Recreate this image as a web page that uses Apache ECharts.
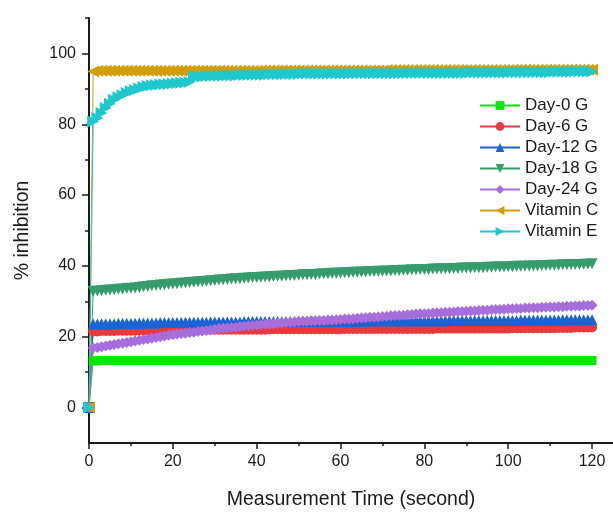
<!DOCTYPE html>
<html>
<head>
<meta charset="utf-8">
<script src="https://cdn.jsdelivr.net/npm/echarts@6/dist/echarts.min.js"></script>
<style>html,body{margin:0;padding:0;background:#fff;}#c{width:613px;height:516px;}</style>
</head>
<body>
<div id="c"></div>
<script>
var times = [0,
1,2,3,4,5,6,7,8,9,10,
11,12,13,14,15,16,17,18,19,20,
21,22,23,24,25,26,27,28,29,30,
31,32,33,34,35,36,37,38,39,40,
41,42,43,44,45,46,47,48,49,50,
51,52,53,54,55,56,57,58,59,60,
61,62,63,64,65,66,67,68,69,70,
71,72,73,74,75,76,77,78,79,80,
81,82,83,84,85,86,87,88,89,90,
91,92,93,94,95,96,97,98,99,100,
101,102,103,104,105,106,107,108,109,110,
111,112,113,114,115,116,117,118,119,120];

var day0G = [0,
13.2,13.2,13.3,13.3,13.3,13.3,13.3,13.3,13.3,13.3,
13.3,13.3,13.3,13.3,13.3,13.3,13.3,13.3,13.3,13.3,
13.3,13.3,13.3,13.3,13.3,13.3,13.3,13.3,13.3,13.3,
13.3,13.3,13.3,13.3,13.3,13.3,13.3,13.3,13.3,13.3,
13.3,13.3,13.3,13.3,13.3,13.3,13.3,13.3,13.3,13.3,
13.3,13.3,13.3,13.3,13.3,13.3,13.3,13.3,13.3,13.3,
13.3,13.3,13.3,13.3,13.3,13.3,13.3,13.3,13.3,13.3,
13.3,13.3,13.3,13.3,13.3,13.3,13.3,13.3,13.3,13.3,
13.3,13.3,13.3,13.3,13.3,13.3,13.3,13.3,13.3,13.3,
13.3,13.3,13.3,13.3,13.3,13.3,13.3,13.3,13.3,13.3,
13.3,13.3,13.3,13.3,13.3,13.3,13.3,13.3,13.3,13.3,
13.3,13.3,13.3,13.3,13.3,13.3,13.3,13.3,13.3,13.3];

var day6G = [0,
21.5,21.5,21.6,21.6,21.6,21.6,21.7,21.7,21.7,21.7,
21.7,21.8,21.8,21.8,21.8,21.8,21.8,21.9,21.9,21.9,
21.9,21.9,21.9,21.9,22.0,22.0,22.0,22.0,22.0,22.0,
22.0,22.0,22.0,22.0,22.0,22.0,22.0,22.0,22.0,22.0,
22.0,22.0,22.1,22.1,22.1,22.1,22.1,22.1,22.1,22.1,
22.1,22.1,22.1,22.1,22.1,22.1,22.1,22.1,22.1,22.1,
22.2,22.2,22.2,22.2,22.2,22.2,22.2,22.2,22.2,22.2,
22.2,22.2,22.2,22.2,22.2,22.2,22.2,22.2,22.2,22.2,
22.2,22.2,22.3,22.3,22.3,22.3,22.3,22.3,22.3,22.3,
22.3,22.3,22.3,22.3,22.3,22.3,22.3,22.3,22.3,22.3,
22.4,22.4,22.4,22.4,22.4,22.4,22.4,22.4,22.4,22.4,
22.4,22.5,22.5,22.5,22.5,22.6,22.6,22.6,22.6,22.6];

var day12G = [0,
23.6,23.6,23.7,23.7,23.7,23.7,23.8,23.8,23.8,23.8,
23.8,23.9,23.9,23.9,23.9,23.9,24.0,24.0,24.0,24.0,
24.0,24.0,24.1,24.1,24.1,24.1,24.1,24.1,24.2,24.2,
24.2,24.2,24.2,24.2,24.2,24.2,24.3,24.3,24.3,24.3,
24.3,24.3,24.3,24.3,24.3,24.3,24.3,24.3,24.4,24.4,
24.4,24.4,24.4,24.4,24.4,24.4,24.4,24.4,24.4,24.4,
24.4,24.4,24.4,24.4,24.4,24.4,24.5,24.5,24.5,24.5,
24.5,24.5,24.5,24.5,24.5,24.5,24.5,24.5,24.5,24.5,
24.5,24.5,24.5,24.5,24.5,24.6,24.6,24.6,24.6,24.6,
24.6,24.6,24.6,24.6,24.6,24.6,24.6,24.6,24.6,24.6,
24.6,24.6,24.7,24.7,24.7,24.7,24.7,24.7,24.7,24.7,
24.7,24.7,24.8,24.8,24.8,24.8,24.8,24.8,24.8,24.8];

var day18G = [0,
32.8,32.9,33.0,33.1,33.2,33.3,33.4,33.5,33.6,33.7,
33.8,33.9,34.1,34.2,34.4,34.5,34.6,34.7,34.8,34.9,
35.0,35.1,35.2,35.3,35.4,35.5,35.6,35.7,35.8,35.9,
36.0,36.1,36.2,36.3,36.4,36.4,36.5,36.6,36.7,36.7,
36.8,36.9,36.9,37.0,37.1,37.1,37.2,37.3,37.3,37.4,
37.5,37.5,37.6,37.6,37.7,37.8,37.8,37.9,37.9,38.0,
38.1,38.1,38.2,38.2,38.3,38.3,38.4,38.4,38.5,38.5,
38.6,38.6,38.7,38.7,38.8,38.8,38.9,38.9,39.0,39.0,
39.0,39.1,39.1,39.2,39.2,39.2,39.3,39.3,39.4,39.4,
39.4,39.5,39.5,39.5,39.6,39.6,39.7,39.7,39.7,39.8,
39.8,39.9,39.9,39.9,40.0,40.0,40.0,40.1,40.1,40.2,
40.2,40.2,40.3,40.3,40.4,40.4,40.4,40.5,40.5,40.6];

var day24G = [0,
16.8,17.0,17.2,17.4,17.6,17.8,18.0,18.2,18.4,18.6,
18.8,19.0,19.2,19.4,19.6,19.8,20.0,20.2,20.4,20.6,
20.8,20.9,21.0,21.2,21.3,21.5,21.6,21.8,21.9,22.1,
22.3,22.4,22.5,22.6,22.7,22.9,23.0,23.1,23.2,23.3,
23.4,23.5,23.6,23.7,23.8,23.9,24.0,24.1,24.2,24.3,
24.4,24.4,24.5,24.5,24.6,24.6,24.7,24.7,24.8,24.9,
25.0,25.0,25.1,25.2,25.3,25.4,25.5,25.5,25.6,25.7,
25.8,25.9,26.0,26.0,26.1,26.2,26.3,26.4,26.5,26.5,
26.6,26.7,26.8,26.8,26.9,26.9,27.0,27.1,27.1,27.2,
27.3,27.3,27.4,27.5,27.5,27.6,27.7,27.7,27.8,27.9,
27.9,28.0,28.0,28.1,28.1,28.2,28.2,28.3,28.3,28.4,
28.4,28.5,28.5,28.6,28.6,28.7,28.7,28.8,28.8,28.9];

var vitaminC = [0,
94.9,95.1,95.1,95.1,95.1,95.1,95.1,95.1,95.1,95.1,
95.1,95.1,95.1,95.1,95.1,95.1,95.1,95.1,95.1,95.1,
95.1,95.1,95.1,95.1,95.1,95.1,95.1,95.1,95.1,95.1,
95.1,95.1,95.1,95.1,95.1,95.1,95.1,95.1,95.1,95.1,
95.2,95.2,95.2,95.2,95.2,95.2,95.2,95.2,95.2,95.2,
95.2,95.2,95.2,95.2,95.2,95.2,95.2,95.2,95.2,95.2,
95.2,95.2,95.2,95.2,95.2,95.2,95.2,95.2,95.2,95.2,
95.3,95.3,95.3,95.3,95.3,95.3,95.3,95.3,95.3,95.3,
95.3,95.3,95.3,95.3,95.3,95.3,95.3,95.3,95.3,95.3,
95.3,95.3,95.3,95.3,95.3,95.3,95.3,95.3,95.3,95.3,
95.4,95.4,95.4,95.4,95.4,95.4,95.4,95.4,95.4,95.4,
95.4,95.4,95.4,95.4,95.4,95.4,95.4,95.4,95.4,95.4];

var vitaminE = [0,
80.8,81.8,83.2,84.6,85.8,86.9,87.6,88.2,88.8,89.3,
89.7,90.1,90.5,90.8,91.0,91.1,91.2,91.3,91.4,91.5,
91.6,91.7,91.8,91.9,93.4,93.5,93.5,93.6,93.6,93.7,
93.7,93.7,93.8,93.8,93.8,93.9,93.9,93.9,94.0,94.0,
94.0,94.0,94.1,94.1,94.1,94.1,94.2,94.2,94.2,94.2,
94.3,94.3,94.3,94.3,94.3,94.3,94.3,94.3,94.3,94.3,
94.3,94.3,94.4,94.4,94.4,94.4,94.4,94.4,94.4,94.4,
94.4,94.4,94.4,94.4,94.4,94.5,94.5,94.5,94.5,94.5,
94.5,94.5,94.5,94.5,94.5,94.5,94.5,94.5,94.5,94.5,
94.6,94.6,94.6,94.6,94.6,94.6,94.6,94.6,94.6,94.6,
94.7,94.7,94.7,94.7,94.7,94.7,94.7,94.7,94.7,94.7,
94.8,94.8,94.8,94.8,94.8,94.9,94.9,94.9,94.9,94.9];

var seriesNames = ['Day-0 G','Day-6 G','Day-12 G','Day-18 G','Day-24 G','Vitamin C','Vitamin E'];
var seriesValues = [day0G, day6G, day12G, day18G, day24G, vitaminC, vitaminE];
var xTickLabels = [0,20,40,60,80,100,120];
var xMinorTicks = [10,30,50,70,90,110];
var yTickLabels = [0,20,40,60,80,100];
var yMinorTicks = [10,30,50,70,90,110];

var colors = ['#0be60b','#e83a3d','#1c63d4','#379c6c','#a66edb','#d29e0c','#1ec8cc'];
var symbols = ['rect','circle','triangle','triangle','diamond','triangle','triangle'];
var rotations = [0,0,0,180,0,90,-90];
var sizes = [9,10,11,11,11,12,12];

var FONT = 'Liberation Sans, Arial, sans-serif';
var INK = '#1a1a1a';

var series = seriesNames.map(function(name, k){
  return {
    name: name,
    type: 'line',
    xAxisIndex: 0, yAxisIndex: 0,
    data: times.map(function(t,i){ return [t, seriesValues[k][i]]; }),
    symbol: symbols[k],
    symbolRotate: rotations[k],
    symbolSize: sizes[k],
    showAllSymbol: true,
    color: colors[k],
    lineStyle: {width: 1, color: colors[k]},
    itemStyle: {color: colors[k]},
    animation: false,
    emphasis: {disabled: true}
  };
});

var chart = echarts.init(document.getElementById('c'), null, {renderer: 'canvas'});
chart.setOption({
  backgroundColor: '#fff',
  animation: false,
  grid: {left: 89, right: -1, top: 18, bottom: 73, containLabel: false},
  legend: {
    orient: 'vertical', left: 474, top: 92,
    itemWidth: 40, itemHeight: 11, itemGap: 4,
    textStyle: {fontFamily: FONT, fontSize: 17, color: INK},
    data: seriesNames
  },
  xAxis: [{
    type: 'value', min: 0, max: 125, interval: 10,
    name: 'Measurement Time (second)', nameLocation: 'middle', nameGap: 47,
    nameTextStyle: {fontFamily: FONT, fontSize: 19.5, color: INK},
    axisLine: {show: true, onZero: false, lineStyle: {color: INK, width: 2}},
    axisTick: {show: true, length: 6, customValues: xTickLabels, lineStyle: {color: INK, width: 1.5}},
    axisLabel: {customValues: xTickLabels, margin: 11, fontFamily: FONT, fontSize: 16, color: INK},
    splitLine: {show: false}
  },{
    type: 'value', min: 0, max: 125, interval: 10, position: 'bottom',
    axisLine: {show: false, onZero: false},
    axisTick: {show: true, length: 3, customValues: xMinorTicks, lineStyle: {color: INK, width: 1.5}},
    axisLabel: {show: false},
    splitLine: {show: false}
  }],
  yAxis: [{
    type: 'value', min: -10, max: 110, interval: 10,
    name: '% inhibition', nameLocation: 'middle', nameGap: 56,
    nameTextStyle: {fontFamily: FONT, fontSize: 19.5, color: INK},
    axisLine: {show: true, onZero: false, lineStyle: {color: INK, width: 2}},
    axisTick: {show: true, length: 7, customValues: yTickLabels, lineStyle: {color: INK, width: 1.5}},
    axisLabel: {customValues: yTickLabels, margin: 13, fontFamily: FONT, fontSize: 16, color: INK},
    splitLine: {show: false}
  },{
    type: 'value', min: -10, max: 110, interval: 10, position: 'left',
    axisLine: {show: false, onZero: false},
    axisTick: {show: true, length: 4, customValues: yMinorTicks, lineStyle: {color: INK, width: 1.5}},
    axisLabel: {show: false},
    splitLine: {show: false}
  }],
  series: series
});
</script>
</body>
</html>
